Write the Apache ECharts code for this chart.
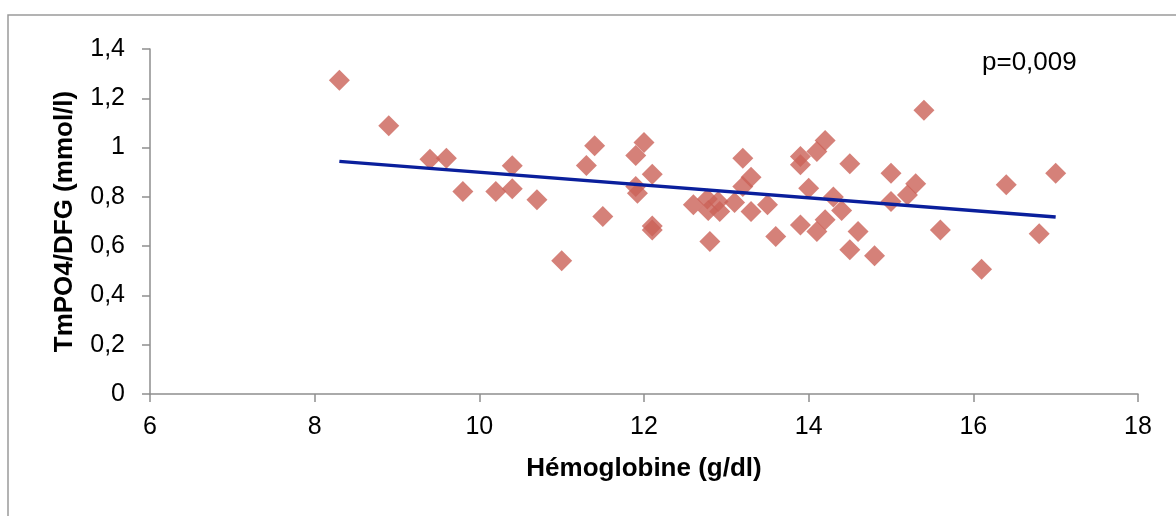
<!DOCTYPE html>
<html>
<head>
<meta charset="utf-8">
<script src="https://cdn.jsdelivr.net/npm/echarts@6/dist/echarts.min.js"></script>
<style>
  html, body { margin: 0; padding: 0; background: #fff; }
  #main { width: 1176px; height: 516px; }
</style>
</head>
<body>
<div id="main"></div>
<script>
// valeurs
var hemoglobine = [8.3, 8.9, 9.4, 9.6, 9.8, 10.2, 10.4, 10.4, 10.7, 11.0,
  11.3, 11.4, 11.5, 11.9, 12.0, 12.1, 11.9, 11.92, 12.1, 12.1,
  12.6, 12.77, 12.78, 12.9, 12.92, 12.8, 13.1, 13.2, 13.3, 13.2,
  13.3, 13.5, 13.6, 15.4, 14.2, 14.1, 13.9, 13.9, 14.5, 15.0,
  14.0, 14.3, 14.4, 15.3, 15.2, 15.0, 13.9, 14.2, 14.1, 14.6,
  14.5, 14.8, 15.6, 16.4, 17.0, 16.8, 16.1];
var tmpo4 = [1.273, 1.089, 0.953, 0.957, 0.822, 0.822, 0.926, 0.833, 0.788, 0.541,
  0.927, 1.007, 0.720, 0.968, 1.021, 0.892, 0.842, 0.815, 0.682, 0.666,
  0.768, 0.791, 0.745, 0.781, 0.741, 0.619, 0.777, 0.957, 0.880, 0.842,
  0.741, 0.768, 0.639, 1.151, 1.029, 0.984, 0.964, 0.930, 0.934, 0.896,
  0.835, 0.799, 0.745, 0.853, 0.808, 0.781, 0.686, 0.707, 0.659, 0.659,
  0.585, 0.561, 0.666, 0.849, 0.896, 0.650, 0.506];
// droite de tendance (extrémités)
var trendX = [8.3, 17.0];
var trendY = [0.944, 0.718];
var pLabel = 'p=0,009';

var points = hemoglobine.map(function(x, i){ return [x, tmpo4[i]]; });
var trend = trendX.map(function(x, i){ return [x, trendY[i]]; });

var myChart = echarts.init(document.getElementById('main'));
var font = '"Liberation Sans", Arial, sans-serif';
var axisGray = '#8e8e8e';

var option = {
  backgroundColor: '#fff',
  animation: false,
  textStyle: { fontFamily: font },
  grid: { left: 150, right: 38, top: 49, bottom: 122 },
  graphic: [
    {
      type: 'rect',
      shape: { x: 8, y: 15, width: 1200, height: 600 },
      style: { fill: 'none', stroke: '#9a9a9a', lineWidth: 1.5 },
      silent: true
    },
    {
      type: 'text',
      left: 982, top: 50,
      style: { text: pLabel, font: '26px ' + font, fill: '#000' }
    }
  ],
  xAxis: {
    type: 'value',
    min: 6, max: 18, interval: 2,
    name: 'Hémoglobine (g/dl)',
    nameLocation: 'middle',
    nameGap: 62,
    nameTextStyle: { fontSize: 26, fontWeight: 'bold', color: '#000', fontFamily: font, verticalAlign: 'top' },
    axisLine: { onZero: false, lineStyle: { color: axisGray, width: 1.5 } },
    axisTick: { show: true, length: 8, lineStyle: { color: axisGray, width: 1.5 } },
    axisLabel: { fontSize: 25, color: '#000', margin: 21, fontFamily: font },
    splitLine: { show: false }
  },
  yAxis: {
    type: 'value',
    min: 0, max: 1.4, interval: 0.2,
    name: 'TmPO4/DFG (mmol/l)',
    nameLocation: 'middle',
    nameGap: 72,
    nameRotate: 90,
    nameTextStyle: { fontSize: 26, fontWeight: 'bold', color: '#000', fontFamily: font },
    axisLine: { show: true, lineStyle: { color: axisGray, width: 1.5 } },
    axisTick: { show: true, length: 8, lineStyle: { color: axisGray, width: 1.5 } },
    axisLabel: {
      fontSize: 25, color: '#000', margin: 25, fontFamily: font,
      formatter: function(v){ return String(Math.round(v * 10) / 10).replace('.', ','); }
    },
    splitLine: { show: false }
  },
  series: [
    {
      type: 'scatter',
      data: points,
      symbol: 'diamond',
      symbolSize: 21,
      itemStyle: { color: '#cb6258' },
      z: 2
    },
    {
      type: 'line',
      data: trend,
      symbol: 'none',
      lineStyle: { color: '#0a1f9c', width: 3.5 },
      z: 3
    }
  ]
};

myChart.setOption(option);
</script>
</body>
</html>
